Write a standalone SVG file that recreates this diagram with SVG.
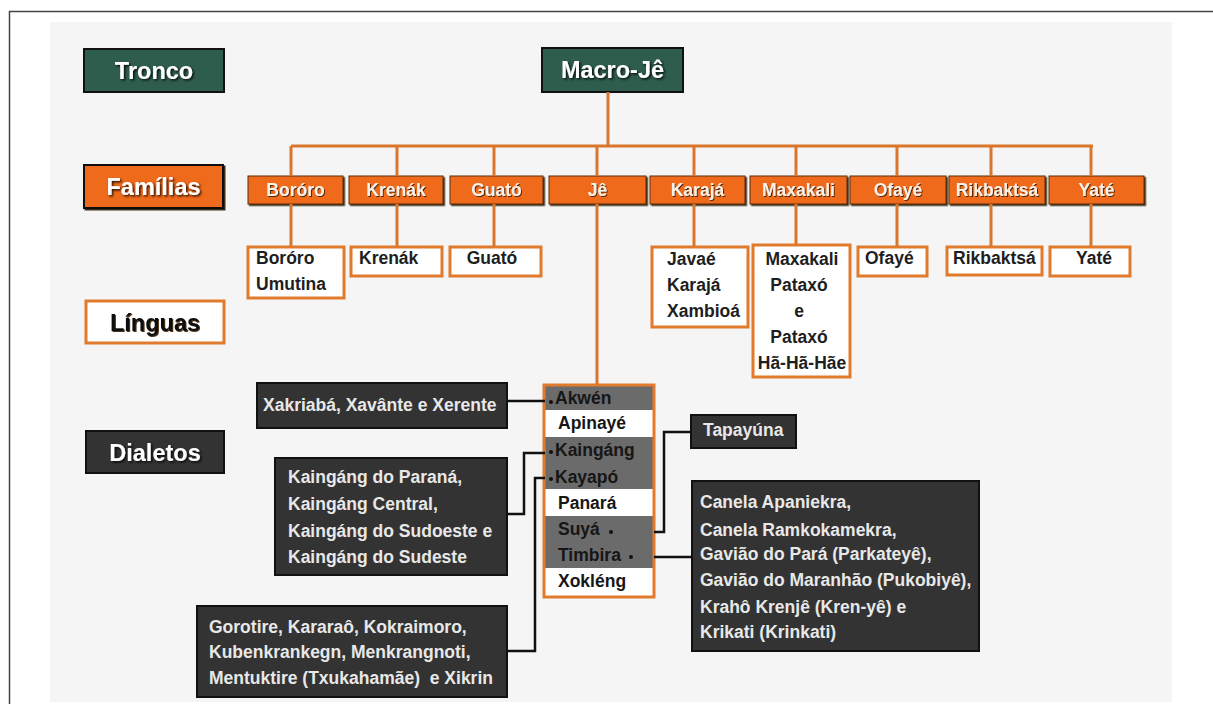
<svg xmlns="http://www.w3.org/2000/svg" width="1213" height="704" viewBox="0 0 1213 704">
<defs>
<filter id="sh" x="-10%" y="-30%" width="130%" height="170%"><feDropShadow dx="1.5" dy="1.5" stdDeviation="0.8" flood-color="#000" flood-opacity="0.85"/></filter>
<filter id="sh2" x="-10%" y="-30%" width="130%" height="170%"><feDropShadow dx="1" dy="1" stdDeviation="0.6" flood-color="#3a1a05" flood-opacity="0.9"/></filter>
<filter id="bs" x="-5%" y="-10%" width="115%" height="130%"><feDropShadow dx="1.5" dy="1.5" stdDeviation="0.4" flood-color="#2a1200" flood-opacity="0.9"/></filter>
</defs>
<style>
text{font-family:"Liberation Sans",Arial,sans-serif;font-weight:bold}
.hd{stroke:#111;stroke-width:2}
.green{fill:#2e5d4d}
.dark{fill:#333333}
.t{font-size:23.5px;fill:#fff;text-anchor:middle;filter:url(#sh)}
.tk{font-size:23.5px;fill:#111;text-anchor:middle;filter:url(#sh2)}
.fam{fill:#f06a1c;stroke:#5a2d0c;stroke-width:1;filter:url(#bs)}
.ft{font-size:17.5px;fill:#fdf0e6;text-anchor:middle;filter:url(#sh2)}
.lang{fill:#fff;stroke:#e27a2c;stroke-width:3}
.lt{font-size:17.5px;fill:#1e1e1e}
.mid{text-anchor:middle}
.dia{fill:#333;stroke:#111;stroke-width:2}
.dt{font-size:17.5px;fill:#e8e8e8}
.oc{stroke:#d9762c;stroke-width:3;fill:none}
.bc{stroke:#111;stroke-width:2.5;fill:none}
.gr{fill:#6b6b6b}
.wh{fill:#ffffff}
.jt{font-size:17.5px;fill:#161616}
</style>
<rect x="0" y="0" width="1213" height="704" fill="#ffffff"/>
<rect x="9.5" y="11.5" width="1230" height="720" fill="none" stroke="#444" stroke-width="1.5"/>
<rect x="50" y="22" width="1122" height="680" fill="#f5f5f5"/>

<g id="legend-tronco"><rect class="green hd" x="84" y="49" width="140" height="43"/><text class="t" x="154" y="79">Tronco</text></g>
<g id="legend-familias"><rect class="fam" x="84" y="165" width="139" height="43" style="stroke:#111;stroke-width:2"/><text class="t" x="153.5" y="195">Famílias</text></g>
<g id="legend-linguas"><rect class="lang" x="86" y="301" width="138" height="42"/><text class="tk" x="155" y="331">Línguas</text></g>
<g id="legend-dialetos"><rect class="dark hd" x="86" y="431" width="138" height="42"/><text class="t" x="155" y="461">Dialetos</text></g>

<g id="macro-je"><rect class="green hd" x="542" y="48" width="141" height="44"/><text class="t" x="612.5" y="78">Macro-Jê</text></g>

<g id="fam-bororo"><rect class="fam" x="248" y="176" width="95" height="28"/><text class="ft" x="295.5" y="196">Boróro</text></g>
<g id="fam-krenak"><rect class="fam" x="349" y="176" width="94" height="28"/><text class="ft" x="396" y="196">Krenák</text></g>
<g id="fam-guato"><rect class="fam" x="450" y="176" width="93" height="28"/><text class="ft" x="496.5" y="196">Guató</text></g>
<g id="fam-je"><rect class="fam" x="549" y="176" width="97" height="28"/><text class="ft" x="597.5" y="196">Jê</text></g>
<g id="fam-karaja"><rect class="fam" x="650" y="176" width="95" height="28"/><text class="ft" x="697.5" y="196">Karajá</text></g>
<g id="fam-maxakali"><rect class="fam" x="750" y="176" width="97" height="28"/><text class="ft" x="798.5" y="196">Maxakali</text></g>
<g id="fam-ofaye"><rect class="fam" x="850" y="176" width="96" height="28"/><text class="ft" x="898" y="196">Ofayé</text></g>
<g id="fam-rikbaktsa"><rect class="fam" x="949" y="176" width="96" height="28"/><text class="ft" x="997" y="196">Rikbaktsá</text></g>
<g id="fam-yate"><rect class="fam" x="1049" y="176" width="95" height="28"/><text class="ft" x="1096.5" y="196">Yaté</text></g>

<g id="lang-bororo"><rect class="lang" x="248" y="247" width="96" height="51"/><text class="lt" x="256" y="264">Boróro</text><text class="lt" x="256" y="290">Umutina</text></g>
<g id="lang-krenak"><rect class="lang" x="351" y="247" width="91" height="29"/><text class="lt" x="359" y="264">Krenák</text></g>
<g id="lang-guato"><rect class="lang" x="450" y="247" width="91" height="29"/><text class="lt mid" x="492" y="264">Guató</text></g>
<g id="lang-karaja"><rect class="lang" x="652" y="247" width="96" height="80"/><text class="lt" x="667" y="265">Javaé</text><text class="lt" x="667" y="291">Karajá</text><text class="lt" x="667" y="317">Xambioá</text></g>
<g id="lang-maxakali"><rect class="lang" x="753" y="245" width="97" height="132"/><text class="lt mid" x="802" y="265">Maxakali</text><text class="lt mid" x="799" y="291">Pataxó</text><text class="lt mid" x="799" y="317">e</text><text class="lt mid" x="799" y="343">Pataxó</text><text class="lt mid" x="802" y="369">Hã-Hã-Hãe</text></g>
<g id="lang-ofaye"><rect class="lang" x="858" y="247" width="69" height="29"/><text class="lt" x="865" y="264">Ofayé</text></g>
<g id="lang-rikbaktsa"><rect class="lang" x="947" y="247" width="95" height="28"/><text class="lt" x="953" y="264">Rikbaktsá</text></g>
<g id="lang-yate"><rect class="lang" x="1050" y="247" width="80" height="29"/><text class="lt mid" x="1094" y="264">Yaté</text></g>

<g id="lang-je">
<rect class="gr" x="544" y="385" width="110" height="25"/>
<rect class="wh" x="544" y="410" width="110" height="27"/>
<rect class="gr" x="544" y="437" width="110" height="52"/>
<rect class="wh" x="544" y="489" width="110" height="27"/>
<rect class="gr" x="544" y="516" width="110" height="52"/>
<rect class="wh" x="544" y="568" width="110" height="29"/>
<rect x="544" y="385" width="110" height="212" fill="none" stroke="#e27a2c" stroke-width="3"/>
<text class="jt" x="555" y="404">Akwén</text>
<text class="jt" x="558" y="429">Apinayé</text>
<text class="jt" x="555" y="456">Kaingáng</text>
<text class="jt" x="555" y="483">Kayapó</text>
<text class="jt" x="558" y="509">Panará</text>
<text class="jt" x="558" y="535">Suyá</text>
<text class="jt" x="558" y="561">Timbira</text>
<text class="jt" x="558" y="587">Xokléng</text>
</g>

<g id="dia-akwen"><rect class="dia" x="257" y="383" width="250" height="45"/><text class="dt" x="263" y="411">Xakriabá, Xavânte e Xerente</text></g>
<g id="dia-kaingang"><rect class="dia" x="275" y="458" width="232" height="117"/><text class="dt" x="288" y="483">Kaingáng do Paraná,</text><text class="dt" x="288" y="510">Kaingáng Central,</text><text class="dt" x="288" y="537">Kaingáng do Sudoeste e</text><text class="dt" x="288" y="563">Kaingáng do Sudeste</text></g>
<g id="dia-kayapo"><rect class="dia" x="197" y="606" width="310" height="91"/><text class="dt" x="209" y="633">Gorotire, Kararaô, Kokraimoro,</text><text class="dt" x="209" y="658">Kubenkrankegn, Menkrangnoti,</text><text class="dt" x="209" y="684" xml:space="preserve">Mentuktire (Txukahamãe)  e Xikrin</text></g>
<g id="dia-suya"><rect class="dia" x="691" y="415" width="105" height="33"/><text class="dt" x="703" y="436">Tapayúna</text></g>
<g id="dia-timbira"><rect class="dia" x="692" y="481" width="287" height="170"/><text class="dt" x="700" y="508">Canela Apaniekra,</text><text class="dt" x="700" y="536">Canela Ramkokamekra,</text><text class="dt" x="700" y="560">Gavião do Pará (Parkateyê),</text><text class="dt" x="700" y="586">Gavião do Maranhão (Pukobiyê),</text><text class="dt" x="700" y="613">Krahô Krenjê (Kren-yê) e</text><text class="dt" x="700" y="638">Krikati (Krinkati)</text></g>

<g id="connectors">
<path class="oc" d="M608 92V146M291 146H1093M291 146V176M397 146V176M494 146V176M597 146V176M694 146V176M796 146V176M897 146V176M991 146V176M1091 146V176"/>
<path class="oc" d="M291 204V246M397 204V246M494 204V246M694 204V246M796 204V244M897 204V246M991 204V246M1091 204V246M597 204V384"/>
<path class="bc" d="M507 401H545"/>
<path class="bc" d="M507 514H524V453H545"/>
<path class="bc" d="M507 651H535V478H545"/>
<path class="bc" d="M654 532H664V432H691"/>
<path class="bc" d="M654 557H692"/>
<circle cx="551" cy="402" r="2" fill="#111"/>
<circle cx="551" cy="452" r="2" fill="#111"/>
<circle cx="551" cy="479" r="2" fill="#111"/>
<circle cx="611" cy="532" r="2" fill="#111"/>
<circle cx="631" cy="557" r="2" fill="#111"/>
</g>
</svg>
